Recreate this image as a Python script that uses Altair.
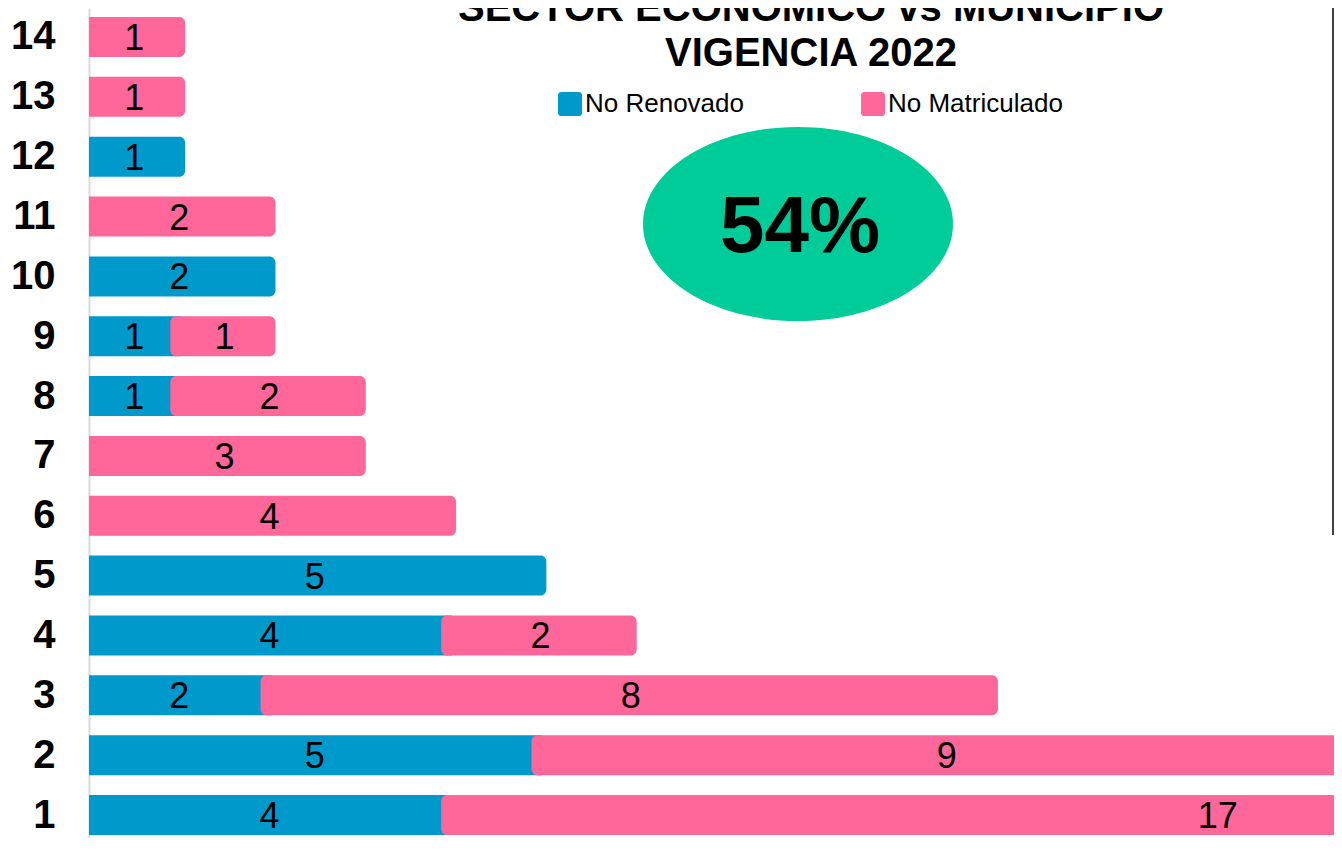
import altair as alt
import pandas as pd

# ---- data ----
categories = [1, 2, 3, 4, 5, 6, 7, 8, 9, 10, 11, 12, 13, 14]
no_renovado = [4, 5, 2, 4, 5, 0, 0, 1, 1, 2, 0, 1, 0, 0]
no_matriculado = [17, 9, 8, 2, 0, 4, 3, 2, 1, 0, 2, 0, 1, 1]
series_names = ["No Renovado", "No Matriculado"]
series_colors = ["#0099CC", "#FF6699"]
title_lines = ["SECTOR ECONÓMICO vs MUNICIPIO", "VIGENCIA 2022"]
badge_text = "54%"

rows = []
for c, nr, nm in zip(categories, no_renovado, no_matriculado):
    if nr > 0:
        rows.append(dict(cat=c, serie=series_names[0], start=0, end=nr, value=nr))
for c, nr, nm in zip(categories, no_renovado, no_matriculado):
    if nm > 0:
        rows.append(dict(cat=c, serie=series_names[1], start=nr, end=nr + nm, value=nm))
df = pd.DataFrame(rows)

SANS = "Liberation Sans, Arial"

W, H = 1245, 830
xscale = alt.Scale(domain=[0, 13.787], nice=False, zero=False)
yscale = alt.Scale(domain=[0.6157, 14.4845], nice=False, zero=False)

base = alt.Chart(df).transform_calculate(
    y_lo="datum.cat - 0.3342",
    y_hi="datum.cat + 0.3342",
    x_lo="datum.start == 0 ? -0.3 : datum.start - 0.1",
    x_hi="datum.end + 0.065",
    mid="(datum.start + datum.end) / 2",
)

legend_path = ("M -1 -0.7 Q -1 -1 -0.7 -1 L 0.7 -1 Q 1 -1 1 -0.7 "
               "L 1 0.7 Q 1 1 0.7 1 L -0.7 1 Q -1 1 -1 0.7 Z")

bars = base.mark_bar(cornerRadius=6, clip=True).encode(
    x=alt.X("x_lo:Q", scale=xscale, axis=None),
    x2="x_hi:Q",
    y=alt.Y("y_lo:Q", scale=yscale,
            axis=alt.Axis(values=categories, format="d", title=None, ticks=False,
                          grid=False, labelFont=SANS, labelFontSize=40,
                          labelFontWeight="bold", labelColor="black",
                          labelPadding=34, domainColor="#d9d9d9", domainWidth=2)),
    y2="y_hi:Q",
    color=alt.Color("serie:N",
                    scale=alt.Scale(domain=series_names, range=series_colors),
                    legend=alt.Legend(title=None, orient="none", direction="horizontal",
                                      legendX=468, legendY=83,
                                      symbolType=legend_path, symbolSize=576,
                                      symbolStrokeWidth=0, symbolOpacity=1,
                                      labelFont=SANS, labelFontSize=26,
                                      labelColor="black", labelOffset=2,
                                      labelLimit=400, columnPadding=116)),
)

labels = base.mark_text(fontSize=36, font=SANS, color="black", baseline="middle",
                        dy=2).encode(
    x=alt.X("mid:Q", scale=xscale),
    y=alt.Y("cat:Q", scale=yscale),
    text=alt.Text("value:Q", format="d"),
)

one = pd.DataFrame({"k": [0]})

title = alt.Chart(one).mark_text(text=title_lines, font=SANS, fontSize=40,
                                 fontWeight="bold", color="black", lineHeight=45,
                                 align="center", baseline="middle").encode(
    x=alt.value(722), y=alt.value(1)
)

ellipse_path = "M -1 0 A 1 0.626 0 1 0 1 0 A 1 0.626 0 1 0 -1 0 Z"
ellipse = alt.Chart(one).mark_point(shape=ellipse_path, filled=True, size=96100,
                                    color="#00CC99", opacity=1, strokeWidth=0).encode(
    x=alt.value(709), y=alt.value(216)
)
badge = alt.Chart(one).mark_text(text=badge_text, font=SANS, fontSize=80,
                                 fontWeight="bold", color="black", align="center",
                                 baseline="middle").encode(
    x=alt.value(711), y=alt.value(220)
)

edge = alt.Chart(one).mark_rule(color="#404040", strokeWidth=2).encode(
    x=alt.value(1244), y=alt.value(0), y2=alt.value(527)
)

chart = alt.layer(bars, labels, ellipse, badge, title, edge).properties(
    width=W, height=H,
    padding={"left": 81, "top": 0, "right": 0, "bottom": 0},
    autosize=alt.AutoSizeParams(type="none"),
    background="white",
).configure_view(stroke=None)

chart.save("out.html", embed_options={"renderer": "svg", "actions": False})
